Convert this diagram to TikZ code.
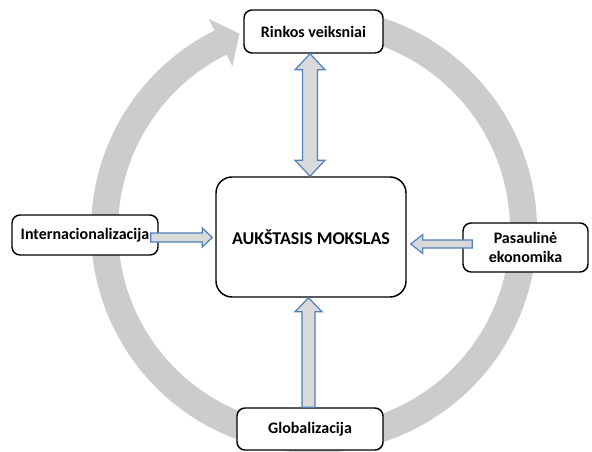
\documentclass[tikz,border=0pt]{standalone}
\usepackage{fontspec}
\setmainfont{Carlito}
\usetikzlibrary{calc}

\definecolor{ringgray}{HTML}{CCCCCC}
\definecolor{arrfill}{HTML}{D9D9D9}
\definecolor{arrline}{HTML}{4F81BD}

\tikzset{
  box/.style={draw=black, line width=1.1pt, fill=white, rounded corners=6pt,
    inner sep=0pt, align=center, font=\fontsize{12}{14}\selectfont\bfseries},
  bigbox/.style={box, rounded corners=12pt, font=\fontsize{13.5}{16}\selectfont\bfseries},
  blockarr/.style={draw=arrline, line width=0.9pt, fill=arrfill, line join=miter}
}

% single block arrow: start, tip, shaft half width, head half width, head length
\newcommand\blockarrow[5]{%
  \path ($(#2)!#5!(#1)$) coordinate (hb);
  \draw[blockarr] ($(#1)!#3!90:(#2)$) -- ($(hb)!#3!-90:(#1)$) -- ($(hb)!#4!-90:(#1)$)
    -- (#2) -- ($(hb)!#4!90:(#1)$) -- ($(hb)!#3!90:(#1)$) -- ($(#1)!#3!-90:(#2)$) -- cycle;
}
% double block arrow: tip, tip, shaft half width, head half width, head length
\newcommand\dblockarrow[5]{%
  \path ($(#1)!#5!(#2)$) coordinate (ha) ($(#2)!#5!(#1)$) coordinate (hb);
  \draw[blockarr] (#1) -- ($(ha)!#4!90:(#2)$) -- ($(ha)!#3!90:(#2)$) -- ($(hb)!#3!-90:(#1)$)
    -- ($(hb)!#4!-90:(#1)$) -- (#2) -- ($(hb)!#4!90:(#1)$) -- ($(hb)!#3!90:(#1)$)
    -- ($(ha)!#3!-90:(#2)$) -- ($(ha)!#4!-90:(#2)$) -- cycle;
}

\begin{document}
\begin{tikzpicture}[x=0.75pt, y=0.75pt]
\useasboundingbox (0,0) rectangle (592,451);

% circular cycle arrow behind everything
\coordinate (c) at (314,221);
\fill[ringgray] ($(c)+(75:223)$) arc[start angle=75, end angle=-243.5, radius=223]
  -- ($(c)+(-243.5:236)$) -- ($(c)+(-249.2:210)$) -- ($(c)+(-243.5:183)$)
  -- ($(c)+(-243.5:196)$) arc[start angle=-243.5, end angle=75, radius=196] -- cycle;

% boxes
\node[box, minimum width=104.25pt, minimum height=32.25pt] (rinkos) at (313.5,419.5) {Rinkos veiksniai};
\node[box, minimum width=109.5pt, minimum height=30pt] (intl) at (85,216) {Internacionalizacija};
\node[box, minimum width=93.75pt, minimum height=36.75pt] (pas) at (525.5,203.5) {Pasaulinė\\ekonomika};
\node[box, minimum width=109.5pt, minimum height=31.5pt] (glob) at (310,22) {Globalizacija};
\node[bigbox, minimum width=142.5pt, minimum height=90pt] (auk) at (311,214) {AUKŠTASIS MOKSLAS};

% arrow end points
\coordinate (rkA) at ($(rinkos.south)+(-3.5,0)$);
\coordinate (rkB) at ($(auk.north)+(-1,0)$);
\coordinate (inA) at ($(intl.east)+(-8,-2.5)$);
\coordinate (inB) at ($(auk.west)+(-3,-0.5)$);
\coordinate (paA) at ($(pas.west)+(10,3.5)$);
\coordinate (paB) at ($(auk.east)+(4,-7)$);
\coordinate (glA) at ($(glob.north)+(-1.5,0)$);
\coordinate (glB) at ($(auk.south)+(-2.5,0)$);

% block arrows
\dblockarrow{rkA}{rkB}{5.6pt}{11.2pt}{12pt}
\blockarrow{inA}{inB}{3.4pt}{7.1pt}{7.5pt}
\blockarrow{paA}{paB}{3pt}{7.1pt}{9pt}
\blockarrow{glA}{glB}{4.9pt}{10.1pt}{10.5pt}
\end{tikzpicture}
\end{document}
